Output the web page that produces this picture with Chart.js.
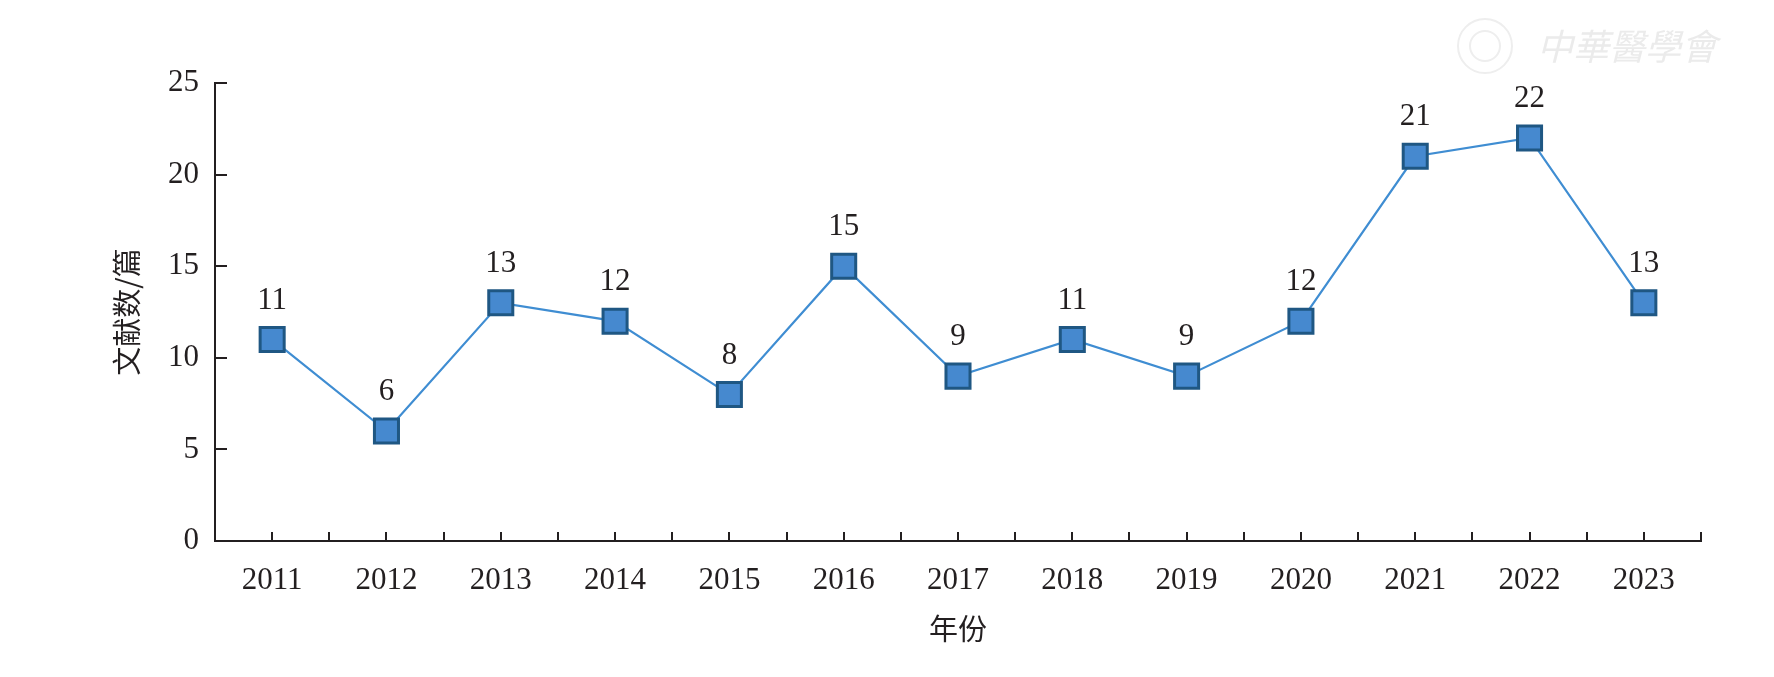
<!DOCTYPE html>
<html>
<head>
<meta charset="utf-8">
<script src="https://cdn.jsdelivr.net/npm/chart.js@4"></script>
<style>
  html, body { margin: 0; padding: 0; background: #fff; }
  canvas { display: block; }
</style>
</head>
<body>
<canvas id="lineChart" width="1774" height="677"></canvas>
<script>
// data
const years = ['2011', '2012', '2013', '2014', '2015', '2016', '2017', '2018', '2019', '2020', '2021', '2022', '2023'];
const counts = [11, 6, 13, 12, 8, 15, 9, 11, 9, 12, 21, 22, 13];
const yTicks = [0, 5, 10, 15, 20, 25];

const numFont = '"Liberation Serif", "Times New Roman", serif';
const cjkFont = '"Noto Sans CJK SC", sans-serif';
const ink = '#231f20';

// small inward tick marks on both axes + value labels + faint watermark
const decorations = {
    id: 'decorations',
    afterDatasetsDraw(chart) {
        const ctx = chart.ctx;
        const x = chart.scales.x, y = chart.scales.y;
        ctx.save();
        ctx.strokeStyle = ink;
        ctx.lineWidth = 2;
        ctx.beginPath();
        for (let k = 0; k <= years.length * 2; k++) {
            const px = Math.round(x.getPixelForValue(k / 2 - 0.5));
            ctx.moveTo(px, y.bottom);
            ctx.lineTo(px, y.bottom - 9);
        }
        yTicks.forEach(function(t) {
            const py = Math.round(y.getPixelForValue(t));
            ctx.moveTo(x.left, py);
            ctx.lineTo(x.left + 12, py);
        });
        ctx.stroke();

        // value labels above points
        const meta = chart.getDatasetMeta(0);
        ctx.fillStyle = ink;
        ctx.font = '31px ' + numFont;
        ctx.textAlign = 'center';
        ctx.textBaseline = 'middle';
        meta.data.forEach(function(pt, i) {
            ctx.fillText(String(counts[i]), pt.x, pt.y - 39);
        });

        // watermark
        ctx.strokeStyle = '#eeeeee';
        ctx.lineWidth = 2;
        ctx.beginPath();
        ctx.arc(1485, 46, 27, 0, Math.PI * 2);
        ctx.stroke();
        ctx.beginPath();
        ctx.arc(1485, 46, 15, 0, Math.PI * 2);
        ctx.stroke();
        ctx.fillStyle = '#ebebeb';
        ctx.font = 'italic 36px ' + cjkFont;
        ctx.textAlign = 'left';
        ctx.fillText('中華醫學會', 1537, 46);
        ctx.restore();
    }
};

const ctx = document.getElementById('lineChart').getContext('2d');
const myChart = new Chart(ctx, {
    type: 'line',
    data: {
        labels: years,
        datasets: [{
            label: '文献数',
            data: counts,
            borderColor: '#3f8dd2',
            borderWidth: 2.2,
            backgroundColor: '#4689cf',
            pointStyle: 'rect',
            pointRadius: 17,
            pointHoverRadius: 17,
            pointBackgroundColor: '#4689cf',
            pointBorderColor: '#1f5783',
            pointBorderWidth: 3,
            tension: 0,
            clip: false
        }]
    },
    options: {
        responsive: false,
        animation: false,
        devicePixelRatio: 1,
        layout: { padding: { top: 83, right: 73, left: 0, bottom: 0 } },
        plugins: {
            legend: { display: false },
            tooltip: { enabled: false }
        },
        scales: {
            x: {
                type: 'category',
                offset: true,
                grid: { display: false, drawTicks: false },
                border: { display: true, color: ink, width: 2 },
                ticks: {
                    color: ink,
                    padding: 21,
                    maxRotation: 0,
                    font: { family: numFont, size: 31 }
                },
                title: {
                    display: true,
                    text: '年份',
                    color: ink,
                    font: { family: cjkFont, size: 29 },
                    padding: { top: 0, bottom: 31 }
                },
                afterFit: function(scale) { scale.height = 136; }
            },
            y: {
                min: 0,
                max: 25,
                grid: { display: false, drawTicks: false },
                border: { display: true, color: ink, width: 2 },
                ticks: {
                    stepSize: 5,
                    color: ink,
                    padding: 16,
                    font: { family: numFont, size: 31 }
                },
                title: {
                    display: true,
                    text: '文献数/篇',
                    color: ink,
                    font: { family: cjkFont, size: 29 },
                    padding: { top: 110, bottom: 0 }
                },
                afterFit: function(scale) { scale.width = 215; }
            }
        }
    },
    plugins: [decorations]
});
</script>
</body>
</html>
